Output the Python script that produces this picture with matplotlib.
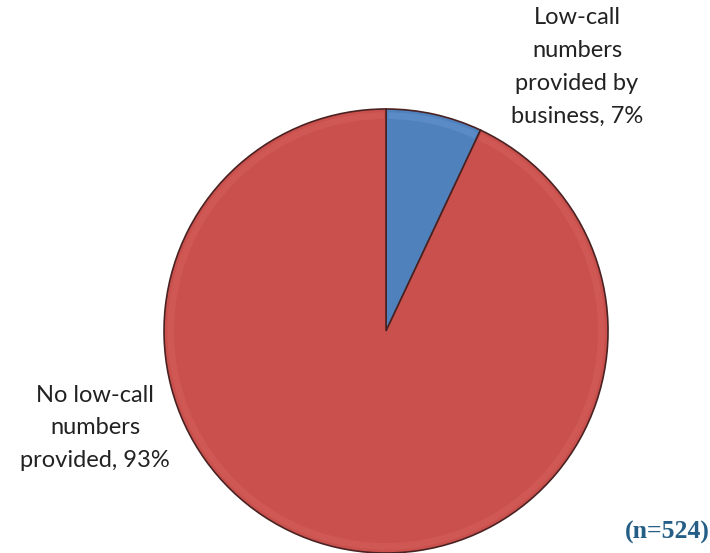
import matplotlib
matplotlib.use("Agg")
import matplotlib.pyplot as plt
from matplotlib.patches import Wedge

labels = ["Low-call\nnumbers\nprovided by\nbusiness, 7%", "No low-call\nnumbers\nprovided, 93%"]
shares = [7, 93]
colors = ["#4F81BD", "#C9504D"]

fig = plt.figure(figsize=(7.1, 5.53), dpi=100)
ax = fig.add_axes([0.2310, 0.0, 0.6254, 0.8029])

wedges, _ = ax.pie(
    shares, colors=colors, startangle=90, counterclock=False, radius=1.0,
    wedgeprops=dict(edgecolor="#4a2222", linewidth=1.2))

# soft bevel near the rim
for w, c in zip(wedges, ["#6C9BD6", "#DA6360"]):
    ax.add_patch(Wedge((0, 0), 0.985, w.theta1 + 0.6, w.theta2 - 0.6, width=0.03,
                       facecolor=c, edgecolor="none", alpha=0.4))

ax.set_xlim(-1, 1)
ax.set_ylim(-1, 1)
ax.set_aspect("equal")
ax.axis("off")

fig.text(577 / 710, 1 - 67 / 553, labels[0], ha="center", va="center",
         fontsize=17, family="Lato", color="#222222", linespacing=1.7)
fig.text(95 / 710, 1 - 428 / 553, labels[1], ha="center", va="center",
         fontsize=17, family="Lato", color="#222222", linespacing=1.7)
fig.text(667 / 710, 1 - 532 / 553, "(n=524)", ha="center", va="center",
         fontsize=18.5, family="Liberation Serif", weight="bold", color="#245E86")

fig.savefig("out.png", dpi=100)
